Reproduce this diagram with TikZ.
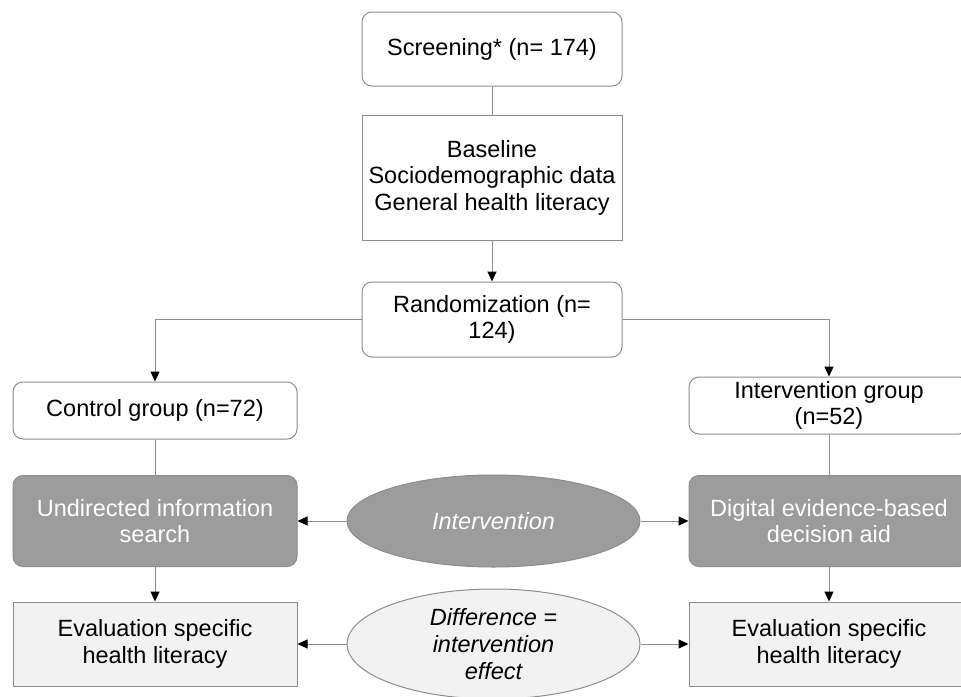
\documentclass[tikz,border=0pt]{standalone}
\usepackage{fontspec}
\setmainfont{Liberation Sans}
\usetikzlibrary{arrows.meta, shapes.geometric}
\definecolor{linegray}{HTML}{8C8C8C}
\definecolor{darkfill}{HTML}{9C9C9C}
\definecolor{lightfill}{HTML}{F2F2F2}

\begin{document}
\begin{tikzpicture}[x=1pt, y=-1pt]
        \tikzset{box/.style = {shape=rectangle, draw=linegray, line width=1pt, align=center, inner sep=0pt, font=\fontsize{23.5}{26.5}\selectfont}}
        \tikzset{rbox/.style = {box, rounded corners=10pt}}
        \tikzset{dark/.style = {fill=darkfill, text=white}}
        \tikzset{light/.style = {fill=lightfill}}
        \tikzset{oval/.style = {shape=ellipse, draw=linegray, line width=1pt, inner sep=0pt, align=center, font=\fontsize{23.5}{27}\selectfont\itshape}}
        \tikzset{edge/.style = {draw=linegray, line width=1pt}}
        \tikzset{arr/.style = {edge, -{Triangle[length=10pt, width=9pt, color=black]}}}

        \useasboundingbox (0,0) rectangle (961,696);

        \node[rbox, minimum width=260pt, minimum height=74pt] (screen) at (492, 49) {Screening* (n= 174)};
        \node[box, minimum width=260pt, minimum height=125pt] (base) at (492, 177.5) {Baseline\\Sociodemographic data\\General health literacy};
        \node[rbox, minimum width=260pt, minimum height=75pt] (rand) at (492, 319.5) {Randomization (n=\\124)};
        \node[rbox, minimum width=284pt, minimum height=57pt] (ctrl) at (155, 410.5) {Control group (n=72)};
        \node[rbox, minimum width=280pt, minimum height=57pt] (intv) at (829, 405.5) {Intervention group\\(n=52)};
        \node[rbox, dark, minimum width=284pt, minimum height=91pt] (search) at (155, 521) {Undirected information\\search};
        \node[oval, dark, minimum width=293pt, minimum height=92pt] (treat) at (493.5, 521) {Intervention};
        \node[rbox, dark, minimum width=280pt, minimum height=91pt] (aid) at (829, 521) {Digital evidence-based\\decision aid};
        \node[box, light, minimum width=284pt, minimum height=84pt] (evalc) at (155, 644) {Evaluation specific\\health literacy};
        \node[oval, light, minimum width=293pt, minimum height=110pt] (diff) at (493.5, 644) {Difference =\\intervention\\effect};
        \node[box, light, minimum width=280pt, minimum height=84pt] (evali) at (829, 644) {Evaluation specific\\health literacy};

        \draw[edge] (screen) to (base);
        \draw[arr] (base) to (rand);
        \draw[arr] (rand.west) -| (ctrl.north);
        \draw[arr] (rand.east) -| (intv.north);
        \draw[edge] (ctrl) to (search);
        \draw[edge] (intv) to (aid);
        \draw[arr] (treat) to (search);
        \draw[arr] (treat) to (aid);
        \draw[arr] (search) to (evalc);
        \draw[arr] (aid) to (evali);
        \draw[arr] (diff) to (evalc);
        \draw[arr] (diff) to (evali);
      \end{tikzpicture}
\end{document}
